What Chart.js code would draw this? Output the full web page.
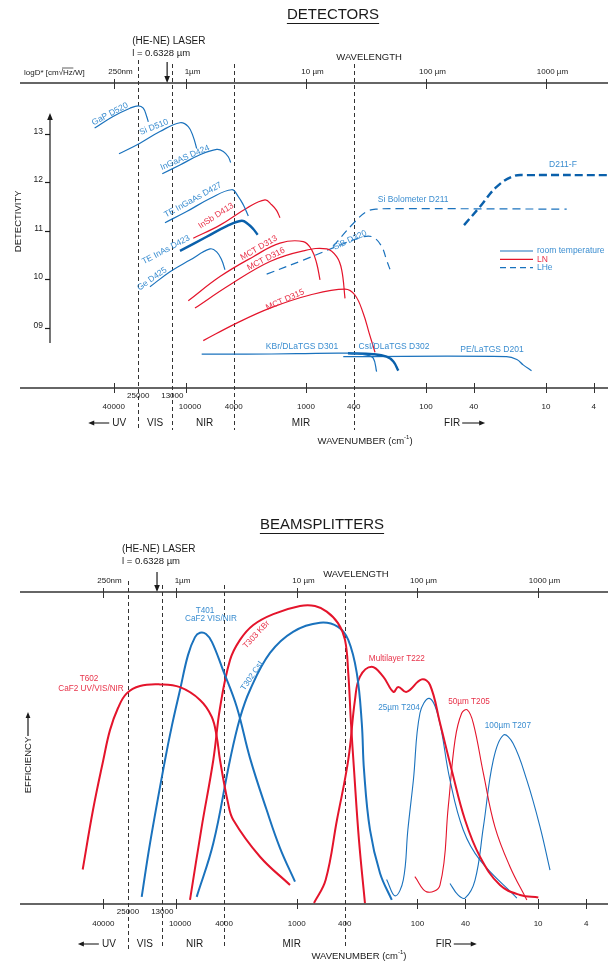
<!DOCTYPE html>
<html>
<head>
<meta charset="utf-8">
<title>Detectors and beamsplitters</title>
<script src="https://cdn.jsdelivr.net/npm/chart.js@4.4.1/dist/chart.umd.min.js"></script>
<style>
  html, body { margin: 0; padding: 0; background: #fff; }
  .panel { position: absolute; left: 0; width: 608px; height: 481px; }
</style>
</head>
<body>
<div class="panel" style="top:0px"><canvas id="detChart"></canvas></div>
<div class="panel" style="top:481px"><canvas id="bsChart"></canvas></div>
<script>
// shared axis values
const regionEdges = [25000, 13000, 4000, 400];          // cm-1, dashed lines
const laserNu = 15803;                                   // He-Ne 0.6328 um
const wnTicks = [40000, 25000, 13000, 10000, 4000, 1000, 400, 100, 40, 10, 4];
const wnTickLabels = ['40000', '25000', '13000', '10000', '4000', '1000', '400', '100', '40', '10', '4'];
const wnMarks = [40000, 10000, 1000, 100, 40, 10, 4];
const wlTicks = [0.25, 1, 10, 100, 1000];                // um
const wlTickLabels = ['250nm', '1µm', '10 µm', '100 µm', '1000 µm'];
const regionNames = ['UV', 'VIS', 'NIR', 'MIR', 'FIR'];
const regionCentres = [36000, 18100, 7000, 1100, 60.5];
const detTicks = [13, 12, 11, 10, 9];
const detTickLabels = ['13', '12', '11', '10', '09'];

// detectors: wavenumber (cm-1) vs log D*
const gapNu = [57700, 40550, 29290, 24980, 22690, 21260, 20610];
const gapD = [13.12, 13.36, 13.53, 13.58, 13.53, 13.36, 13.25];
const siNu = [36150, 24170, 16470, 11220, 9568, 8694, 8146];
const siD = [12.59, 12.81, 13.05, 13.23, 13.15, 12.94, 12.70];
const ingaasNu = [15760, 11220, 7644, 5548, 4889, 4441, 4241];
const ingaasD = [12.18, 12.36, 12.57, 12.68, 12.64, 12.53, 12.41];
const teIngaasNu = [14960, 9867, 6310, 4161, 3666, 3331, 3026];
const teIngaasD = [11.17, 11.40, 11.67, 11.85, 11.71, 11.54, 11.31];
const insbNu = [8694, 5209, 3120, 2196, 1931, 1754, 1647];
const insbD = [10.85, 11.12, 11.47, 11.64, 11.54, 11.42, 11.27];
const teInasNu = [11220, 6723, 4579, 3434, 3026, 2749, 2526];
const teInasD = [10.59, 10.88, 11.10, 11.21, 11.14, 11.04, 10.92];
const geNu = [19950, 13590, 9261, 6310, 5548, 5041, 4732];
const geD = [9.85, 10.16, 10.40, 10.63, 10.57, 10.40, 10.20];
const mct313Nu = [9568, 5209, 2749, 1647, 1053, 896, 814, 764];
const mct313D = [9.56, 10.06, 10.47, 10.75, 10.78, 10.61, 10.33, 9.99];
const mct316Nu = [8414, 4298, 1995, 1053, 672, 555, 504, 473];
const mct316D = [9.41, 9.89, 10.37, 10.59, 10.63, 10.47, 10.20, 9.61];
const mct315Nu = [7175, 3780, 1995, 926, 473, 391, 333, 298, 266];
const mct315D = [8.74, 9.10, 9.41, 9.68, 9.80, 9.68, 9.30, 8.90, 8.50];
const sibNu = [2126, 1053, 555, 333, 275, 234, 213, 193];
const sibD = [10.11, 10.40, 10.68, 10.88, 10.87, 10.68, 10.40, 10.11];
const siBoloNu = [596, 391, 312, 258, 165, 6.72];
const siBoloD = [10.68, 11.19, 11.40, 11.45, 11.46, 11.45];
const d211fNu = [48.2, 35.5, 25.8, 18.7, 14.5, 3.05];
const d211fD = [11.12, 11.50, 11.91, 12.13, 12.15, 12.15];
const kbrNu = [7398, 3120, 1195, 430, 312, 275, 258];
const kbrD = [8.46, 8.46, 8.47, 8.48, 8.44, 8.38, 8.10];
const csiNu = [447, 275, 213, 187, 170];
const csiD = [8.48, 8.46, 8.41, 8.31, 8.12];
const peNu = [489, 21.3, 17.5, 15.5, 13.2];
const peD = [8.41, 8.41, 8.35, 8.24, 8.12];

// beamsplitters: wavenumber (cm-1) vs efficiency (relative, %)
const t602Nu = [59290, 48720, 40020, 35230, 30240, 25610, 19880, 13570, 9266, 6328, 5061, 4600, 4320, 3708, 3352, 2014, 1136];
const t602E = [10.8, 29.9, 46.0, 55.6, 62.7, 67.4, 69.8, 70.3, 69.4, 65.3, 59.9, 53.5, 46.0, 32.2, 26.7, 14.9, 5.8];
const t401Nu = [19240, 16420, 12330, 10790, 9266, 7955, 6960, 6328, 5641, 5032, 4079, 3141, 2437, 1773, 1375, 1033];
const t401E = [2.0, 19.2, 46.0, 57.2, 68.5, 79.7, 85.5, 86.9, 86.5, 83.9, 74.9, 63.1, 46.6, 29.9, 17.7, 6.9];
const t303Nu = [7656, 6125, 4909, 4320, 3570, 2950, 2289, 1563, 939, 705, 564, 455, 398, 374, 355, 335, 305, 272];
const t303E = [1.0, 24.5, 46.0, 62.7, 78.1, 84.6, 89.4, 92.9, 95.5, 95.5, 93.7, 90.0, 84.6, 74.0, 57.9, 42.8, 20.3, 0];
const t302Nu = [6739, 4909, 3570, 2950, 2437, 1664, 1073, 641, 455, 374, 318, 289, 277, 247, 204, 163];
const t302E = [2.0, 19.2, 46.0, 59.5, 68.5, 80.4, 87.2, 90.1, 88.8, 84.6, 74.0, 57.9, 42.8, 23.5, 9.6, 1.0];
const t222Nu = [719, 576, 464, 374, 329, 299, 239, 192, 158, 144, 123, 92.1, 78.6, 65.0, 52.0, 40.3, 30.3, 20.7, 14.1, 9.96];
const t222E = [0, 7.4, 26.7, 46.0, 65.3, 72.8, 76.0, 72.8, 67.9, 69.5, 67.9, 71.9, 70.1, 57.9, 42.8, 26.7, 14.9, 5.8, 2.6, 1.8];
const t204Nu = [180, 153, 131, 120, 108, 95.2, 79.7, 67.1, 53.7, 41.7, 30.3, 15.0];
const t204E = [7.6, 2.3, 7.4, 23.5, 39.5, 61.1, 65.8, 59.9, 39.5, 23.5, 13.8, 1.6];
const t205Nu = [105, 83.7, 65.0, 55.5, 48.8, 43.0, 38.6, 34.4, 28.4, 22.8, 17.1, 12.4];
const t205E = [8.5, 3.6, 5.8, 31.0, 52.4, 61.0, 62.1, 57.8, 41.7, 24.5, 11.7, 1.0];
const t207Nu = [53.7, 46.1, 40.3, 33.3, 28.4, 23.5, 19.4, 16.1, 12.4, 9.64, 7.97];
const t207E = [6.3, 2.6, 1.6, 7.4, 24.5, 46.0, 54.0, 51.3, 39.5, 24.5, 10.6];

const BLUE = '#1a72bd', BLUE_DK = '#0a60ab', RED = '#e4142b';
const BLUE_TXT = '#3a8dd0', RED_TXT = '#e8334a', INK = '#1a1a1a', AXIS = '#333';
const FONT = '"Liberation Sans", Arial, sans-serif';

function pts(nu, v) { return nu.map((x, i) => ({ x: x, y: v[i] })); }
function curve(label, nu, v, color, width, dash) {
  return { label: label, data: pts(nu, v), borderColor: color, borderWidth: width,
           borderDash: dash || [], pointRadius: 0, tension: 0.4, fill: false };
}

function txt(ctx, s, x, y, size, color, align, rot) {
  ctx.save();
  ctx.translate(x, y);
  if (rot) ctx.rotate(rot * Math.PI / 180);
  ctx.font = size + 'px ' + FONT;
  ctx.fillStyle = color;
  ctx.textAlign = align || 'center';
  ctx.textBaseline = 'middle';
  ctx.fillText(s, 0, 0);
  ctx.restore();
}

function arrow(ctx, x1, y1, x2, y2, size) {
  const a = Math.atan2(y2 - y1, x2 - x1);
  ctx.beginPath();
  ctx.moveTo(x1, y1);
  ctx.lineTo(x2 - Math.cos(a) * size * 0.8, y2 - Math.sin(a) * size * 0.8);
  ctx.stroke();
  ctx.beginPath();
  ctx.moveTo(x2, y2);
  ctx.lineTo(x2 - size * Math.cos(a) + size * 0.4 * Math.sin(a), y2 - size * Math.sin(a) - size * 0.4 * Math.cos(a));
  ctx.lineTo(x2 - size * Math.cos(a) - size * 0.4 * Math.sin(a), y2 - size * Math.sin(a) + size * 0.4 * Math.cos(a));
  ctx.closePath();
  ctx.fill();
}

function decor(cfg) {
  return {
    id: 'decor',
    beforeDatasetsDraw(chart) {
      const ctx = chart.ctx, xs = chart.scales.x;
      ctx.save();
      ctx.strokeStyle = AXIS; ctx.lineWidth = 1; ctx.setLineDash([4, 3]);
      regionEdges.forEach((nu, i) => {
        const x = Math.round(xs.getPixelForValue(nu)) + 0.5;
        const top = i === 0 ? cfg.dashTop - 4 : cfg.dashTop;
        ctx.beginPath(); ctx.moveTo(x, top); ctx.lineTo(x, cfg.dashBottom); ctx.stroke();
      });
      ctx.restore();
    },
    afterDatasetsDraw(chart) {
      const ctx = chart.ctx, ca = chart.chartArea;
      const X = v => chart.scales.x.getPixelForValue(v);
      const Y = v => chart.scales.y.getPixelForValue(v);
      ctx.save();
      ctx.strokeStyle = INK; ctx.fillStyle = INK;

      // title, underlined
      txt(ctx, cfg.title, cfg.titleX, cfg.titleY, 15, INK);
      ctx.font = '15px ' + FONT;
      const tw = ctx.measureText(cfg.title).width;
      ctx.lineWidth = 1;
      ctx.beginPath(); ctx.moveTo(cfg.titleX - tw / 2, cfg.titleY + 8.5); ctx.lineTo(cfg.titleX + tw / 2, cfg.titleY + 8.5); ctx.stroke();

      // laser
      const lx = X(laserNu);
      txt(ctx, '(HE-NE) LASER', lx - 30, cfg.laserY, 10, INK, 'left');
      txt(ctx, 'l = 0.6328 µm', lx - 30, cfg.laserY + 12, 9.5, INK, 'left');
      ctx.lineWidth = 1.2;
      arrow(ctx, lx + 5, cfg.arrowTop, lx + 5, ca.top, 7);

      // axis lines
      ctx.strokeStyle = AXIS; ctx.lineWidth = 1.6;
      [ca.top, ca.bottom].forEach(y => {
        ctx.beginPath(); ctx.moveTo(ca.left, y); ctx.lineTo(ca.right, y); ctx.stroke();
      });

      // wavelength axis
      ctx.lineWidth = 1;
      wlTicks.forEach((um, i) => {
        const x = Math.round(X(1e4 / um)) + 0.5;
        ctx.beginPath(); ctx.moveTo(x, ca.top - 4); ctx.lineTo(x, ca.top + 6); ctx.stroke();
        txt(ctx, wlTickLabels[i], x + 6, ca.top - 11, 8, INK);
      });
      txt(ctx, 'WAVELENGTH', X(cfg.wlTitleNu), cfg.wlTitleY, 9.5, INK);

      // wavenumber axis
      wnMarks.forEach(nu => {
        const x = Math.round(X(nu)) + 0.5;
        ctx.beginPath(); ctx.moveTo(x, ca.bottom - 5); ctx.lineTo(x, ca.bottom + 5); ctx.stroke();
      });
      wnTicks.forEach((nu, i) => {
        const high = (nu === 25000 || nu === 13000);
        txt(ctx, wnTickLabels[i], X(nu) + (nu === 10000 ? 4 : 0), ca.bottom + (high ? 8 : cfg.tickDy), 8, INK);
      });

      // spectral regions
      const ry = ca.bottom + cfg.regionDy;
      regionNames.forEach((r, i) => txt(ctx, r, X(regionCentres[i]), ry, 10, INK));
      ctx.lineWidth = 1.2;
      const ux = X(regionCentres[0]), fx = X(regionCentres[4]);
      arrow(ctx, ux - 10, ry, ux - 31, ry, 6);
      arrow(ctx, fx + 10, ry, fx + 33, ry, 6);

      // WAVENUMBER (cm-1)
      ctx.font = '9.5px ' + FONT;
      const p1 = 'WAVENUMBER (cm', p2 = '-1', p3 = ')';
      const w1 = ctx.measureText(p1).width, w3 = ctx.measureText(p3).width;
      ctx.font = '6px ' + FONT;
      const w2 = ctx.measureText(p2).width;
      const wx = X(cfg.wnTitleNu) - (w1 + w2 + w3) / 2, wy = ca.bottom + cfg.wnTitleDy;
      txt(ctx, p1, wx, wy, 9.5, INK, 'left');
      txt(ctx, p2, wx + w1, wy - 4, 6, INK, 'left');
      txt(ctx, p3, wx + w1 + w2, wy, 9.5, INK, 'left');

      // curve labels
      cfg.labels.forEach(l => {
        txt(ctx, l[0], X(l[1]), Y(l[2]), cfg.labelSize, l[4] === 'r' ? RED_TXT : BLUE_TXT, 'center', l[3]);
      });

      if (cfg.extra) cfg.extra(chart, ctx, X, Y);
      ctx.restore();
    }
  };
}

const detLabels = [
  ['GaP D520', 43000, 13.41, -28, 'b'],
  ['Si D510', 18480, 13.14, -22, 'b'],
  ['InGaAS D424', 10190, 12.51, -23, 'b'],
  ['TE InGaAs D427', 8745, 11.64, -29, 'b'],
  ['InSb D413', 5623, 11.31, -33, 'r'],
  ['TE InAs D423', 14680, 10.61, -28, 'b'],
  ['Ge D425', 19200, 10.01, -35, 'b'],
  ['MCT D313', 2465, 10.65, -30, 'r'],
  ['MCT D316', 2154, 10.42, -27, 'r'],
  ['MCT D315', 1496, 9.58, -24, 'r'],
  ['SiB D320', 430, 10.81, -25, 'b'],
  ['Si Bolometer D211', 128, 11.64, 0, 'b'],
  ['D211-F', 7.22, 12.36, 0, 'b'],
  ['KBr/DLaTGS D301', 1080, 8.61, 0, 'b'],
  ['CsI/DLaTGS D302', 185, 8.61, 0, 'b'],
  ['PE/LaTGS D201', 28.2, 8.55, 0, 'b']
];

const bsLabels = [
  ['T602', 52580, 72.0, 0, 'r'],
  ['CaF2 UV/VIS/NIR', 50600, 68.8, 0, 'r'],
  ['T401', 5750, 93.9, 0, 'b'],
  ['CaF2 VIS/NIR', 5129, 91.3, 0, 'b'],
  ['T303 KBr', 2161, 86.3, -47, 'r'],
  ['T302 CsI', 2346, 73.0, -56, 'b'],
  ['Multilayer T222', 148, 78.5, 0, 'r'],
  ['25µm T204', 142, 62.7, 0, 'b'],
  ['50µm T205', 37.4, 64.6, 0, 'r'],
  ['100µm T207', 17.8, 56.9, 0, 'b']
];

const detCfg = {
  title: 'DETECTORS', titleX: 333, titleY: 15,
  laserY: 41, arrowTop: 62, wlTitleNu: 298, wlTitleY: 57,
  dashTop: 64, dashBottom: 430, tickDy: 19, regionDy: 35, wnTitleNu: 322, wnTitleDy: 53,
  labels: detLabels, labelSize: 8.5,
  extra(chart, ctx, X, Y) {
    // logD* header
    let x = 24; const y = 73;
    const parts = ['logD* [cm', '√', 'Hz', '/W]'];
    ctx.font = '8px ' + FONT;
    const ws = parts.map(p => ctx.measureText(p).width);
    txt(ctx, parts[0], x, y, 8, INK, 'left'); x += ws[0];
    txt(ctx, parts[1], x, y, 8, INK, 'left'); x += ws[1];
    txt(ctx, parts[2], x, y, 8, INK, 'left');
    ctx.strokeStyle = INK; ctx.lineWidth = 0.7;
    ctx.beginPath(); ctx.moveTo(x - 1, y - 5); ctx.lineTo(x + ws[2] + 0.5, y - 5); ctx.stroke();
    x += ws[2];
    txt(ctx, parts[3], x, y, 8, INK, 'left');

    // detectivity axis
    ctx.strokeStyle = INK; ctx.fillStyle = INK; ctx.lineWidth = 1.2;
    arrow(ctx, 50, Y(8.69), 50, Y(13.43), 7);
    detTicks.forEach((v, i) => {
      const y = Math.round(Y(v)) + 0.5;
      ctx.beginPath(); ctx.moveTo(45, y); ctx.lineTo(50, y); ctx.stroke();
      txt(ctx, detTickLabels[i], 43, y - 3, 8.5, INK, 'right');
    });
    txt(ctx, 'DETECTIVITY', 18, Y(11.2), 9.5, INK, 'center', -90);

    // legend
    const lg = [['room temperature', BLUE, []], ['LN', RED, []], ['LHe', BLUE, [6, 4]]];
    lg.forEach((e, i) => {
      const ly = 251 + i * 8.3;
      ctx.strokeStyle = e[1]; ctx.lineWidth = 1.2; ctx.setLineDash(e[2]);
      ctx.beginPath(); ctx.moveTo(500, ly); ctx.lineTo(533, ly); ctx.stroke();
      ctx.setLineDash([]);
      txt(ctx, e[0], 537, ly, 8.5, i === 1 ? RED_TXT : BLUE_TXT, 'left');
    });
  }
};

const bsCfg = {
  title: 'BEAMSPLITTERS', titleX: 322, titleY: 44,
  laserY: 68, arrowTop: 91, wlTitleNu: 323, wlTitleY: 93,
  dashTop: 104, dashBottom: 468, tickDy: 20, regionDy: 40, wnTitleNu: 305, wnTitleDy: 52,
  labels: bsLabels, labelSize: 8.2,
  extra(chart, ctx, X, Y) {
    txt(ctx, 'EFFICIENCY', 28, 284, 9.5, INK, 'center', -90);
    ctx.strokeStyle = INK; ctx.fillStyle = INK; ctx.lineWidth = 1.2;
    arrow(ctx, 28, 255, 28, 231, 6);
  }
};

function options(cfg, xmin, xmax, ymin, ymax, pad) {
  return {
    responsive: true,
    maintainAspectRatio: false,
    animation: false,
    events: [],
    layout: { padding: pad },
    scales: {
      x: { type: 'logarithmic', reverse: true, min: xmin, max: xmax, display: false },
      y: { type: 'linear', min: ymin, max: ymax, display: false }
    },
    plugins: { legend: { display: false }, tooltip: { enabled: false } }
  };
}

new Chart(document.getElementById('detChart'), {
  type: 'line',
  data: {
    datasets: [
      curve('GaP D520', gapNu, gapD, BLUE, 1.2),
      curve('Si D510', siNu, siD, BLUE, 1.2),
      curve('InGaAs D424', ingaasNu, ingaasD, BLUE, 1.2),
      curve('TE InGaAs D427', teIngaasNu, teIngaasD, BLUE, 1.2),
      curve('InSb D413', insbNu, insbD, RED, 1.2),
      curve('TE InAs D423', teInasNu, teInasD, BLUE_DK, 2.4),
      curve('Ge D425', geNu, geD, BLUE, 1.2),
      curve('MCT D313', mct313Nu, mct313D, RED, 1.2),
      curve('MCT D316', mct316Nu, mct316D, RED, 1.2),
      curve('MCT D315', mct315Nu, mct315D, RED, 1.2),
      curve('SiB D320', sibNu, sibD, BLUE, 1.2, [8, 5]),
      curve('Si Bolometer D211', siBoloNu, siBoloD, BLUE, 1.2, [8, 5]),
      curve('D211-F', d211fNu, d211fD, BLUE_DK, 2.4, [8, 4]),
      curve('KBr/DLaTGS D301', kbrNu, kbrD, BLUE, 1.2),
      curve('CsI/DLaTGS D302', csiNu, csiD, BLUE_DK, 2.4),
      curve('PE/LaTGS D201', peNu, peD, BLUE, 1.2)
    ]
  },
  options: options(detCfg, 3.043, 241600, 7.763, 14.05, { left: 20, right: 0, top: 83, bottom: 93 }),
  plugins: [decor(detCfg)]
});

new Chart(document.getElementById('bsChart'), {
  type: 'line',
  data: {
    datasets: [
      curve('T602', t602Nu, t602E, RED, 2),
      curve('T401', t401Nu, t401E, BLUE, 2),
      curve('T303 KBr', t303Nu, t303E, RED, 2),
      curve('T302 CsI', t302Nu, t302E, BLUE, 2),
      curve('Multilayer T222', t222Nu, t222E, RED, 2),
      curve('25µm T204', t204Nu, t204E, BLUE, 1.1),
      curve('50µm T205', t205Nu, t205E, RED, 1.1),
      curve('100µm T207', t207Nu, t207E, BLUE, 1.1)
    ]
  },
  options: options(bsCfg, 2.636, 196100, -0.3, 100, { left: 20, right: 0, top: 111, bottom: 58 }),
  plugins: [decor(bsCfg)]
});
</script>
</body>
</html>
